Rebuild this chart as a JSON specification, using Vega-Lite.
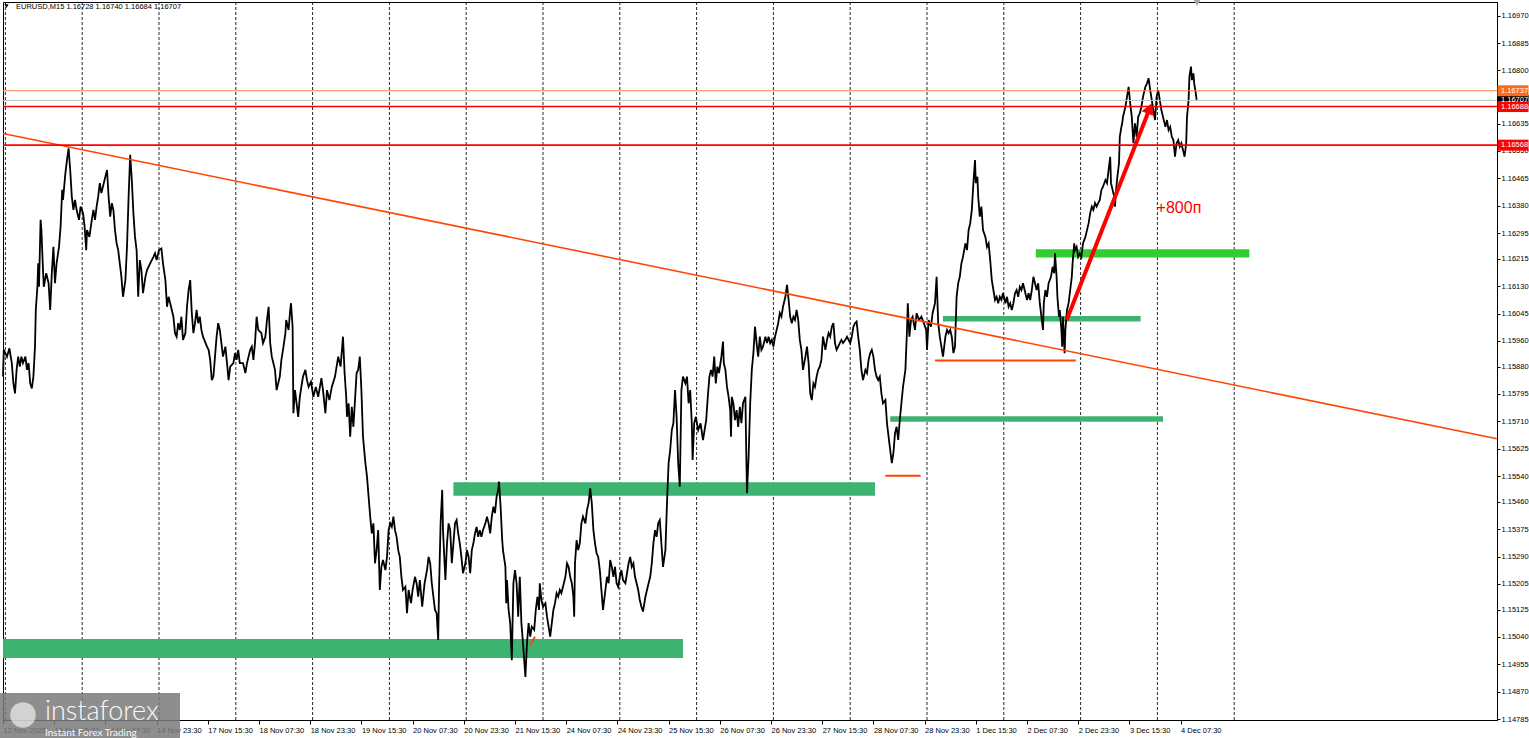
{
"$schema": "https://vega.github.io/schema/vega-lite/v6.json",
"width": 1494, "height": 718,
"autosize": "none",
"padding": {"left": 3, "top": 2, "right": 32, "bottom": 18},
"background": "#ffffff",
"config": {"view": {"stroke": "#000000", "strokeWidth": 1}, "axis": {"labelOverlap": false, "labelSeparation": 0}},
"resolve": {"scale": {"color": "independent"}},
"datasets": {
"grid": [{"g":3},{"g":99},{"g":195},{"g":291},{"g":387},{"g":483},{"g":579},{"g":675},{"g":771},{"g":867},{"g":963},{"g":1059},{"g":1155},{"g":1251},{"g":1347},{"g":1443},{"g":1539}],
"bands": [
{"b1":0,"b2":850,"p1":1.15034,"p2":1.14975,"k":"sea"},
{"b1":563,"b2":1090,"p1":1.15521,"p2":1.15479,"k":"sea"},
{"b1":1109,"b2":1450,"p1":1.15726,"p2":1.15709,"k":"sea"},
{"b1":1175,"b2":1422,"p1":1.16037,"p2":1.16020,"k":"sea"},
{"b1":1291,"b2":1558,"p1":1.16245,"p2":1.16219,"k":"lime"}],
"segs": [
{"b1":1103,"p1":1.15541,"b2":1147,"p2":1.15541},
{"b1":1165,"p1":1.15899,"b2":1341,"p2":1.15899},
{"b1":659,"p1":1.15015,"b2":665,"p2":1.15041}],
"tags": [
{"p":1.16707,"t":"1.16707","k":"bid"},
{"p":1.16737,"t":"1.16737","k":"orange"},
{"p":1.16688,"t":"1.16688","k":"red"},
{"p":1.16568,"t":"1.16568","k":"red"}],
"price": [
{"b":0,"p":1.15849},{"b":1,"p":1.15932},{"b":5,"p":1.15911},{"b":8,"p":1.15937},{"b":11,"p":1.15891},{"b":13,"p":1.15828},{"b":15,"p":1.15797},{"b":17,"p":1.15870},{"b":19,"p":1.15911},{"b":21,"p":1.15880},{"b":23,"p":1.15911},{"b":25,"p":1.15891},{"b":28,"p":1.15911},{"b":30,"p":1.15870},{"b":32,"p":1.15891},{"b":34,"p":1.15828},{"b":36,"p":1.15812},{"b":38,"p":1.15849},{"b":40,"p":1.15942},{"b":41,"p":1.16056},{"b":43,"p":1.16128},{"b":44,"p":1.16201},{"b":45,"p":1.16128},{"b":47,"p":1.16336},{"b":48,"p":1.16304},{"b":50,"p":1.16180},{"b":51,"p":1.16128},{"b":54,"p":1.16170},{"b":57,"p":1.16139},{"b":59,"p":1.16056},{"b":61,"p":1.16170},{"b":63,"p":1.16252},{"b":65,"p":1.16139},{"b":67,"p":1.16201},{"b":70,"p":1.16252},{"b":72,"p":1.16315},{"b":74,"p":1.16429},{"b":75,"p":1.16398},{"b":78,"p":1.16481},{"b":80,"p":1.16522},{"b":82,"p":1.16558},{"b":84,"p":1.16491},{"b":86,"p":1.16408},{"b":88,"p":1.16367},{"b":90,"p":1.16398},{"b":92,"p":1.16367},{"b":95,"p":1.16336},{"b":97,"p":1.16377},{"b":100,"p":1.16357},{"b":102,"p":1.16315},{"b":104,"p":1.16242},{"b":105,"p":1.16304},{"b":108,"p":1.16283},{"b":111,"p":1.16336},{"b":113,"p":1.16367},{"b":115,"p":1.16336},{"b":117,"p":1.16377},{"b":119,"p":1.16408},{"b":121,"p":1.16450},{"b":123,"p":1.16419},{"b":126,"p":1.16450},{"b":129,"p":1.16481},{"b":130,"p":1.16491},{"b":132,"p":1.16408},{"b":134,"p":1.16346},{"b":136,"p":1.16388},{"b":138,"p":1.16367},{"b":140,"p":1.16304},{"b":142,"p":1.16263},{"b":144,"p":1.16242},{"b":146,"p":1.16201},{"b":148,"p":1.16159},{"b":150,"p":1.16097},{"b":153,"p":1.16149},{"b":155,"p":1.16252},{"b":157,"p":1.16408},{"b":159,"p":1.16538},{"b":161,"p":1.16460},{"b":163,"p":1.16357},{"b":165,"p":1.16283},{"b":167,"p":1.16242},{"b":169,"p":1.16097},{"b":171,"p":1.16211},{"b":173,"p":1.16180},{"b":175,"p":1.16108},{"b":178,"p":1.16159},{"b":180,"p":1.16180},{"b":184,"p":1.16201},{"b":188,"p":1.16221},{"b":190,"p":1.16232},{"b":192,"p":1.16211},{"b":195,"p":1.16242},{"b":198,"p":1.16247},{"b":200,"p":1.16201},{"b":203,"p":1.16149},{"b":205,"p":1.16066},{"b":207,"p":1.16097},{"b":209,"p":1.16077},{"b":211,"p":1.16056},{"b":213,"p":1.16035},{"b":215,"p":1.15984},{"b":217,"p":1.15973},{"b":219,"p":1.16015},{"b":221,"p":1.15994},{"b":223,"p":1.16035},{"b":225,"p":1.15963},{"b":228,"p":1.15984},{"b":230,"p":1.16066},{"b":232,"p":1.16118},{"b":234,"p":1.16149},{"b":236,"p":1.16046},{"b":238,"p":1.15984},{"b":240,"p":1.16015},{"b":242,"p":1.16056},{"b":244,"p":1.16015},{"b":246,"p":1.16035},{"b":248,"p":1.15994},{"b":250,"p":1.15973},{"b":255,"p":1.15942},{"b":257,"p":1.15932},{"b":259,"p":1.15901},{"b":261,"p":1.15838},{"b":263,"p":1.15849},{"b":265,"p":1.15911},{"b":267,"p":1.15973},{"b":269,"p":1.16015},{"b":271,"p":1.15994},{"b":273,"p":1.15953},{"b":275,"p":1.15911},{"b":278,"p":1.15942},{"b":280,"p":1.15891},{"b":282,"p":1.15838},{"b":284,"p":1.15880},{"b":288,"p":1.15891},{"b":290,"p":1.15922},{"b":292,"p":1.15901},{"b":294,"p":1.15932},{"b":296,"p":1.15891},{"b":300,"p":1.15891},{"b":303,"p":1.15860},{"b":305,"p":1.15891},{"b":309,"p":1.15932},{"b":311,"p":1.15942},{"b":313,"p":1.15901},{"b":315,"p":1.15953},{"b":317,"p":1.16035},{"b":319,"p":1.15994},{"b":323,"p":1.15984},{"b":325,"p":1.15953},{"b":328,"p":1.15973},{"b":330,"p":1.16025},{"b":332,"p":1.16066},{"b":334,"p":1.15953},{"b":336,"p":1.15911},{"b":340,"p":1.15870},{"b":342,"p":1.15807},{"b":344,"p":1.15828},{"b":346,"p":1.15849},{"b":348,"p":1.15901},{"b":350,"p":1.15932},{"b":353,"p":1.15984},{"b":354,"p":1.16025},{"b":357,"p":1.15994},{"b":359,"p":1.16056},{"b":360,"p":1.16077},{"b":362,"p":1.16004},
{"b":363,"p":1.15735},{"b":365,"p":1.15807},{"b":367,"p":1.15766},{"b":369,"p":1.15724},{"b":371,"p":1.15786},{"b":375,"p":1.15849},{"b":378,"p":1.15870},{"b":380,"p":1.15838},{"b":382,"p":1.15817},{"b":385,"p":1.15833},{"b":388,"p":1.15786},{"b":391,"p":1.15817},{"b":394,"p":1.15786},{"b":398,"p":1.15844},{"b":400,"p":1.15807},{"b":403,"p":1.15735},{"b":405,"p":1.15807},{"b":408,"p":1.15776},{"b":411,"p":1.15817},{"b":415,"p":1.15849},{"b":419,"p":1.15911},{"b":422,"p":1.15880},{"b":425,"p":1.15973},{"b":427,"p":1.15860},{"b":429,"p":1.15786},{"b":430,"p":1.15724},{"b":432,"p":1.15766},{"b":434,"p":1.15662},{"b":436,"p":1.15755},{"b":438,"p":1.15693},{"b":440,"p":1.15776},{"b":442,"p":1.15860},{"b":444,"p":1.15870},{"b":446,"p":1.15911},{"b":448,"p":1.15807},{"b":450,"p":1.15662},{"b":453,"p":1.15580},{"b":455,"p":1.15538},{"b":457,"p":1.15476},{"b":459,"p":1.15414},{"b":461,"p":1.15362},{"b":463,"p":1.15393},{"b":465,"p":1.15269},{"b":467,"p":1.15310},{"b":469,"p":1.15372},{"b":471,"p":1.15186},{"b":473,"p":1.15258},{"b":475,"p":1.15279},{"b":478,"p":1.15248},{"b":480,"p":1.15289},{"b":482,"p":1.15372},{"b":484,"p":1.15393},{"b":486,"p":1.15382},{"b":488,"p":1.15414},{"b":490,"p":1.15372},{"b":492,"p":1.15351},{"b":494,"p":1.15310},{"b":496,"p":1.15289},{"b":498,"p":1.15227},{"b":500,"p":1.15186},{"b":503,"p":1.15196},{"b":505,"p":1.15114},{"b":507,"p":1.15186},{"b":510,"p":1.15145},{"b":512,"p":1.15186},{"b":515,"p":1.15227},{"b":517,"p":1.15207},{"b":519,"p":1.15165},{"b":521,"p":1.15217},{"b":524,"p":1.15134},{"b":527,"p":1.15207},{"b":530,"p":1.15248},{"b":532,"p":1.15289},{"b":534,"p":1.15269},{"b":536,"p":1.15207},{"b":538,"p":1.15165},{"b":540,"p":1.15124},{"b":542,"p":1.15114},{"b":544,"p":1.15031},{"b":545,"p":1.15186},{"b":547,"p":1.15393},{"b":549,"p":1.15497},{"b":550,"p":1.15372},{"b":553,"p":1.15217},{"b":555,"p":1.15331},{"b":557,"p":1.15393},{"b":559,"p":1.15372},{"b":561,"p":1.15269},{"b":563,"p":1.15331},{"b":565,"p":1.15393},{"b":567,"p":1.15403},{"b":569,"p":1.15362},{"b":571,"p":1.15331},{"b":573,"p":1.15289},{"b":575,"p":1.15238},{"b":578,"p":1.15269},{"b":580,"p":1.15310},{"b":582,"p":1.15289},{"b":584,"p":1.15238},{"b":586,"p":1.15310},{"b":588,"p":1.15331},{"b":590,"p":1.15362},{"b":592,"p":1.15382},{"b":594,"p":1.15351},{"b":596,"p":1.15372},{"b":598,"p":1.15351},{"b":600,"p":1.15372},{"b":603,"p":1.15393},{"b":605,"p":1.15414},{"b":607,"p":1.15393},{"b":609,"p":1.15362},{"b":611,"p":1.15414},{"b":613,"p":1.15445},{"b":615,"p":1.15425},{"b":617,"p":1.15476},{"b":619,"p":1.15497},{"b":620,"p":1.15523},{"b":622,"p":1.15445},{"b":624,"p":1.15341},{"b":625,"p":1.15310},{"b":628,"p":1.15258},{"b":629,"p":1.15145},{"b":630,"p":1.15217},{"b":632,"p":1.15124},{"b":634,"p":1.15083},{"b":636,"p":1.14968},{"b":638,"p":1.15207},{"b":640,"p":1.15248},{"b":642,"p":1.15207},{"b":644,"p":1.15103},{"b":646,"p":1.15227},{"b":648,"p":1.15083},{"b":650,"p":1.15021},{"b":653,"p":1.14916},{"b":655,"p":1.15021},{"b":657,"p":1.15083},{"b":659,"p":1.15041},{"b":661,"p":1.15072},{"b":664,"p":1.15062},{"b":666,"p":1.15124},{"b":668,"p":1.15165},{"b":670,"p":1.15124},{"b":671,"p":1.15207},{"b":673,"p":1.15155},{"b":675,"p":1.15134},{"b":678,"p":1.15145},{"b":680,"p":1.15103},{"b":682,"p":1.15072},{"b":684,"p":1.15041},{"b":686,"p":1.15083},{"b":688,"p":1.15124},{"b":690,"p":1.15145},{"b":692,"p":1.15176},{"b":694,"p":1.15165},{"b":696,"p":1.15186},{"b":698,"p":1.15176},{"b":700,"p":1.15196},{"b":703,"p":1.15227},{"b":705,"p":1.15269},{"b":707,"p":1.15258},{"b":709,"p":1.15227},{"b":711,"p":1.15207},{"b":713,"p":1.15165},{"b":714,"p":1.15103},{"b":715,"p":1.15269},{"b":717,"p":1.15341},{"b":719,"p":1.15310},{"b":721,"p":1.15331},{"b":723,"p":1.15393},{"b":725,"p":1.15414},{"b":728,"p":1.15393},{"b":730,"p":1.15435},{"b":732,"p":1.15456},{"b":734,"p":1.15502},{"b":736,"p":1.15456},{"b":738,"p":1.15372},{"b":740,"p":1.15331},{"b":742,"p":1.15300},{"b":744,"p":1.15289},{"b":746,"p":1.15248},{"b":748,"p":1.15186},{"b":750,"p":1.15124},{"b":753,"p":1.15186},{"b":755,"p":1.15227},{"b":757,"p":1.15207},{"b":759,"p":1.15279},{"b":761,"p":1.15258},{"b":763,"p":1.15227},{"b":765,"p":1.15258},{"b":767,"p":1.15207},{"b":769,"p":1.15196},{"b":771,"p":1.15227},{"b":773,"p":1.15248},{"b":775,"p":1.15217},{"b":778,"p":1.15207},{"b":780,"p":1.15238},{"b":782,"p":1.15269},{"b":784,"p":1.15289},{"b":786,"p":1.15258},{"b":788,"p":1.15269},{"b":790,"p":1.15227},{"b":792,"p":1.15207},{"b":794,"p":1.15186},{"b":796,"p":1.15155},{"b":798,"p":1.15134},{"b":800,"p":1.15119},{"b":803,"p":1.15165},{"b":805,"p":1.15186},{"b":807,"p":1.15207},{"b":809,"p":1.15227},{"b":811,"p":1.15269},{"b":813,"p":1.15331},{"b":815,"p":1.15372},{"b":817,"p":1.15351},{"b":819,"p":1.15393},{"b":821,"p":1.15403},{"b":823,"p":1.15331},{"b":825,"p":1.15258},{"b":828,"p":1.15310},{"b":830,"p":1.15456},{"b":832,"p":1.15580},{"b":834,"p":1.15621},{"b":836,"p":1.15683},{"b":838,"p":1.15704},{"b":840,"p":1.15807},{"b":842,"p":1.15724},{"b":844,"p":1.15580},{"b":846,"p":1.15507},{"b":848,"p":1.15807},{"b":850,"p":1.15849},{"b":853,"p":1.15828},{"b":855,"p":1.15849},{"b":857,"p":1.15766},{"b":859,"p":1.15807},{"b":861,"p":1.15704},{"b":862,"p":1.15590},{"b":864,"p":1.15704},{"b":866,"p":1.15724},{"b":869,"p":1.15683},{"b":872,"p":1.15704},{"b":875,"p":1.15652},{"b":877,"p":1.15683},{"b":879,"p":1.15714},{"b":881,"p":1.15786},{"b":883,"p":1.15849},{"b":885,"p":1.15870},{"b":887,"p":1.15849},{"b":889,"p":1.15911},{"b":891,"p":1.15828},{"b":893,"p":1.15880},{"b":895,"p":1.15860},{"b":898,"p":1.15911},{"b":900,"p":1.15958},{"b":901,"p":1.15891},{"b":903,"p":1.15870},{"b":905,"p":1.15817},{"b":907,"p":1.15786},{"b":909,"p":1.15745},{"b":910,"p":1.15662},{"b":911,"p":1.15786},{"b":913,"p":1.15766},{"b":915,"p":1.15714},{"b":917,"p":1.15745},{"b":919,"p":1.15693},{"b":921,"p":1.15755},{"b":923,"p":1.15704},{"b":925,"p":1.15766},{"b":928,"p":1.15786},{"b":929,"p":1.15621},{"b":930,"p":1.15487},{"b":932,"p":1.15600},{"b":934,"p":1.15766},{"b":936,"p":1.15870},{"b":938,"p":1.15922},{"b":940,"p":1.16004},{"b":942,"p":1.15953},{"b":944,"p":1.15911},{"b":946,"p":1.15973},{"b":948,"p":1.15932},{"b":950,"p":1.15942},{"b":953,"p":1.15973},{"b":955,"p":1.15953},{"b":957,"p":1.15973},{"b":959,"p":1.15953},{"b":961,"p":1.15963},{"b":963,"p":1.15942},{"b":965,"p":1.15973},{"b":967,"p":1.15994},{"b":969,"p":1.16015},{"b":971,"p":1.16046},{"b":973,"p":1.16035},{"b":975,"p":1.16066},{"b":978,"p":1.16097},{"b":980,"p":1.16134},{"b":982,"p":1.16087},{"b":984,"p":1.16035},{"b":986,"p":1.16015},{"b":988,"p":1.16035},{"b":990,"p":1.16025},{"b":992,"p":1.16056},{"b":994,"p":1.16025},{"b":996,"p":1.15963},{"b":998,"p":1.15932},{"b":1000,"p":1.15870},{"b":1003,"p":1.15911},{"b":1005,"p":1.15942},{"b":1007,"p":1.15891},{"b":1009,"p":1.15797},{"b":1011,"p":1.15776},{"b":1013,"p":1.15828},{"b":1015,"p":1.15817},{"b":1017,"p":1.15849},{"b":1019,"p":1.15870},{"b":1021,"p":1.15880},{"b":1023,"p":1.15901},{"b":1025,"p":1.15973},{"b":1028,"p":1.15932},{"b":1030,"p":1.15963},{"b":1032,"p":1.15984},{"b":1034,"p":1.15973},{"b":1036,"p":1.16004},{"b":1038,"p":1.16015},{"b":1040,"p":1.15953},{"b":1042,"p":1.15932},{"b":1044,"p":1.15942},{"b":1046,"p":1.15953},{"b":1048,"p":1.15963},{"b":1050,"p":1.15953},{"b":1053,"p":1.15963},{"b":1055,"p":1.15973},{"b":1057,"p":1.15963},{"b":1059,"p":1.15953},{"b":1061,"p":1.15973},{"b":1063,"p":1.16004},{"b":1065,"p":1.16015},{"b":1067,"p":1.16020},{"b":1069,"p":1.15973},{"b":1071,"p":1.15932},{"b":1073,"p":1.15870},{"b":1075,"p":1.15838},{"b":1078,"p":1.15870},{"b":1080,"p":1.15860},{"b":1082,"p":1.15901},{"b":1084,"p":1.15922},{"b":1086,"p":1.15932},{"b":1088,"p":1.15911},{"b":1090,"p":1.15870},{"b":1092,"p":1.15849},{"b":1094,"p":1.15838},{"b":1096,"p":1.15849},{"b":1098,"p":1.15797},{"b":1100,"p":1.15766},{"b":1103,"p":1.15776},{"b":1105,"p":1.15704},{"b":1107,"p":1.15662},{"b":1109,"p":1.15621},{"b":1111,"p":1.15580},{"b":1113,"p":1.15611},{"b":1115,"p":1.15673},{"b":1117,"p":1.15693},{"b":1119,"p":1.15652},{"b":1121,"p":1.15714},{"b":1123,"p":1.15766},{"b":1125,"p":1.15817},{"b":1128,"p":1.15870},{"b":1130,"p":1.15994},{"b":1131,"p":1.16077},{"b":1133,"p":1.15973},{"b":1135,"p":1.16025},{"b":1137,"p":1.16035},{"b":1140,"p":1.15994},{"b":1142,"p":1.16046},{"b":1145,"p":1.16025},{"b":1148,"p":1.16035},{"b":1151,"p":1.16015},{"b":1154,"p":1.15994},{"b":1155,"p":1.15932},{"b":1157,"p":1.16025},{"b":1160,"p":1.16004},{"b":1162,"p":1.16046},{"b":1165,"p":1.16077},{"b":1167,"p":1.16159},{"b":1169,"p":1.16015},{"b":1171,"p":1.15973},{"b":1173,"p":1.15942},{"b":1175,"p":1.15911},{"b":1178,"p":1.15973},{"b":1180,"p":1.15994},{"b":1182,"p":1.15984},{"b":1184,"p":1.15994},{"b":1186,"p":1.15973},{"b":1188,"p":1.15922},{"b":1190,"p":1.15942},{"b":1192,"p":1.16097},{"b":1194,"p":1.16139},
{"b":1196,"p":1.16159},{"b":1198,"p":1.16201},{"b":1200,"p":1.16221},{"b":1203,"p":1.16263},{"b":1205,"p":1.16242},{"b":1207,"p":1.16304},{"b":1209,"p":1.16325},{"b":1211,"p":1.16367},{"b":1213,"p":1.16450},{"b":1215,"p":1.16522},{"b":1216,"p":1.16450},{"b":1218,"p":1.16470},{"b":1219,"p":1.16408},{"b":1221,"p":1.16346},{"b":1223,"p":1.16377},{"b":1225,"p":1.16304},{"b":1228,"p":1.16283},{"b":1230,"p":1.16252},{"b":1232,"p":1.16263},{"b":1234,"p":1.16211},{"b":1236,"p":1.16149},{"b":1238,"p":1.16118},{"b":1240,"p":1.16087},{"b":1242,"p":1.16097},{"b":1244,"p":1.16077},{"b":1246,"p":1.16097},{"b":1248,"p":1.16087},{"b":1250,"p":1.16108},{"b":1253,"p":1.16077},{"b":1255,"p":1.16097},{"b":1257,"p":1.16066},{"b":1259,"p":1.16077},{"b":1261,"p":1.16056},{"b":1263,"p":1.16077},{"b":1265,"p":1.16108},{"b":1267,"p":1.16118},{"b":1269,"p":1.16097},{"b":1271,"p":1.16128},{"b":1273,"p":1.16118},{"b":1275,"p":1.16139},{"b":1278,"p":1.16108},{"b":1280,"p":1.16087},{"b":1282,"p":1.16108},{"b":1284,"p":1.16087},{"b":1286,"p":1.16118},{"b":1288,"p":1.16159},{"b":1290,"p":1.16139},{"b":1292,"p":1.16118},{"b":1294,"p":1.16139},{"b":1296,"p":1.16077},{"b":1298,"p":1.16035},{"b":1300,"p":1.15994},{"b":1301,"p":1.16077},{"b":1303,"p":1.16118},{"b":1305,"p":1.16097},{"b":1307,"p":1.16139},{"b":1310,"p":1.16159},{"b":1312,"p":1.16190},{"b":1314,"p":1.16170},{"b":1315,"p":1.16232},{"b":1317,"p":1.16159},{"b":1318,"p":1.16097},{"b":1320,"p":1.16035},{"b":1321,"p":1.16056},{"b":1323,"p":1.15994},{"b":1324,"p":1.15942},{"b":1325,"p":1.16035},{"b":1327,"p":1.15922},{"b":1328,"p":1.15994},{"b":1330,"p":1.16056},{"b":1332,"p":1.16077},{"b":1334,"p":1.16118},{"b":1336,"p":1.16159},{"b":1337,"p":1.16201},{"b":1339,"p":1.16263},{"b":1340,"p":1.16242},{"b":1342,"p":1.16252},{"b":1344,"p":1.16221},{"b":1346,"p":1.16232},{"b":1348,"p":1.16221},{"b":1350,"p":1.16263},{"b":1353,"p":1.16283},{"b":1355,"p":1.16304},{"b":1357,"p":1.16325},{"b":1359,"p":1.16357},{"b":1361,"p":1.16377},{"b":1363,"p":1.16367},{"b":1365,"p":1.16388},{"b":1367,"p":1.16377},{"b":1369,"p":1.16388},{"b":1371,"p":1.16398},{"b":1373,"p":1.16429},{"b":1375,"p":1.16439},{"b":1378,"p":1.16460},{"b":1380,"p":1.16450},{"b":1382,"p":1.16491},{"b":1384,"p":1.16532},{"b":1385,"p":1.16450},{"b":1387,"p":1.16429},{"b":1389,"p":1.16408},{"b":1390,"p":1.16377},{"b":1391,"p":1.16419},{"b":1393,"p":1.16470},{"b":1395,"p":1.16512},{"b":1396,"p":1.16594},{"b":1398,"p":1.16625},{"b":1399,"p":1.16636},{"b":1400,"p":1.16656},{"b":1403,"p":1.16687},{"b":1405,"p":1.16718},{"b":1407,"p":1.16749},{"b":1409,"p":1.16698},{"b":1411,"p":1.16656},{"b":1413,"p":1.16574},{"b":1415,"p":1.16636},{"b":1417,"p":1.16594},{"b":1419,"p":1.16656},{"b":1421,"p":1.16667},{"b":1423,"p":1.16687},{"b":1425,"p":1.16718},{"b":1428,"p":1.16749},{"b":1430,"p":1.16760},{"b":1432,"p":1.16776},{"b":1434,"p":1.16739},{"b":1436,"p":1.16708},{"b":1438,"p":1.16677},{"b":1440,"p":1.16646},{"b":1442,"p":1.16718},{"b":1444,"p":1.16739},{"b":1446,"p":1.16708},{"b":1448,"p":1.16677},{"b":1450,"p":1.16656},{"b":1453,"p":1.16625},{"b":1455,"p":1.16646},{"b":1457,"p":1.16615},{"b":1459,"p":1.16625},{"b":1461,"p":1.16594},{"b":1463,"p":1.16584},{"b":1465,"p":1.16532},{"b":1467,"p":1.16574},{"b":1469,"p":1.16584},{"b":1471,"p":1.16563},{"b":1473,"p":1.16574},{"b":1475,"p":1.16553},{"b":1477,"p":1.16532},{"b":1479,"p":1.16574},{"b":1480,"p":1.16656},{"b":1482,"p":1.16708},{"b":1483,"p":1.16781},{"b":1485,"p":1.16812},{"b":1486,"p":1.16770},{"b":1488,"p":1.16791},{"b":1489,"p":1.16760},{"b":1491,"p":1.16729},{"b":1492,"p":1.16709}
]
},
"layer": [
{"data": {"name": "grid"},
 "mark": {"type": "rule", "color": "#000000", "strokeWidth": 1, "strokeDash": [3, 2], "opacity": 0.85},
 "encoding": {"x": {"field": "g", "type": "quantitative", "title": null}}},
{"data": {"name": "bands"},
 "mark": {"type": "rect"},
 "encoding": {
  "x": {"field": "b1", "type": "quantitative", "title": null},
  "x2": {"field": "b2"},
  "y": {"field": "p1", "type": "quantitative", "title": null},
  "y2": {"field": "p2"},
  "color": {"field": "k", "type": "nominal", "scale": {"domain": ["sea", "lime"], "range": ["#3cb371", "#32cd32"]}, "legend": null}}},
{"data": {"name": "price"},
 "mark": {"type": "line", "color": "#000000", "strokeWidth": 1.8, "strokeJoin": "miter"},
 "encoding": {
  "x": {"field": "b", "type": "quantitative", "title": null, "scale": {"domain": [0, 1867.5], "nice": false, "zero": false},
   "axis": {"orient": "bottom", "title": null, "grid": false, "tickCount": 60,
    "values": [0,64,128,192,256,320,384,448,512,576,640,704,768,832,896,960,1024,1088,1152,1216,1280,1344,1408,1472],
    "labelExpr": "['12 Nov 2025','13 Nov 15:30','14 Nov 07:30','14 Nov 23:30','17 Nov 15:30','18 Nov 07:30','18 Nov 23:30','19 Nov 15:30','20 Nov 07:30','20 Nov 23:30','21 Nov 15:30','24 Nov 07:30','24 Nov 23:30','25 Nov 15:30','26 Nov 07:30','26 Nov 23:30','27 Nov 15:30','28 Nov 07:30','28 Nov 23:30','1 Dec 15:30','2 Dec 07:30','2 Dec 23:30','3 Dec 15:30','4 Dec 07:30'][round(datum.value/64)]",
    "labelAlign": "left", "labelBaseline": "top", "labelPadding": 2, "tickSize": 4,
    "labelFont": "Liberation Sans", "labelFontSize": 7.5, "labelColor": "#000000",
    "tickColor": "#000000", "domainColor": "#000000", "labelOverlap": false, "labelFlush": false, "labelBound": false}},
  "y": {"field": "p", "type": "quantitative", "title": null, "scale": {"domain": [1.147821, 1.170128], "nice": false, "zero": false},
   "axis": {"orient": "right", "title": null, "grid": false, "tickCount": 60,
    "values": [1.16970,1.16885,1.16800,1.16720,1.16635,1.16550,1.16465,1.16380,1.16295,1.16215,1.16130,1.16045,1.15960,1.15880,1.15795,1.15710,1.15625,1.15540,1.15460,1.15375,1.15290,1.15205,1.15125,1.15040,1.14955,1.14870,1.14785],
    "format": ".5f", "tickSize": 3, "labelPadding": 1,
    "labelFont": "Liberation Sans", "labelFontSize": 7.5, "labelColor": "#000000",
    "tickColor": "#000000", "domainColor": "#000000", "labelOverlap": false, "labelFlush": false, "labelBound": false}}}},
{"data": {"values": [{}]},
 "mark": {"type": "rule", "color": "#ff4500", "strokeWidth": 1.6},
 "encoding": {"x": {"datum": 0, "title": null}, "x2": {"datum": 1867.5}, "y": {"datum": 1.16604, "title": null}, "y2": {"datum": 1.15656}}},
{"data": {"values": [{}]},
 "mark": {"type": "rule", "color": "#ff7f50", "strokeWidth": 1},
 "encoding": {"y": {"datum": 1.16737, "title": null}}},
{"data": {"values": [{}]},
 "mark": {"type": "rule", "color": "#c0c0c0", "strokeWidth": 1},
 "encoding": {"y": {"datum": 1.16707, "title": null}}},
{"data": {"values": [{}]},
 "mark": {"type": "rule", "color": "#ff0000", "strokeWidth": 1.6},
 "encoding": {"y": {"datum": 1.16688, "title": null}}},
{"data": {"values": [{}]},
 "mark": {"type": "rule", "color": "#ff0000", "strokeWidth": 1.6},
 "encoding": {"y": {"datum": 1.16568, "title": null}}},
{"data": {"name": "segs"},
 "mark": {"type": "rule", "color": "#ff4500", "strokeWidth": 2},
 "encoding": {"x": {"field": "b1", "type": "quantitative", "title": null}, "x2": {"field": "b2"}, "y": {"field": "p1", "type": "quantitative", "title": null}, "y2": {"field": "p2"}}},
{"data": {"values": [{}]},
 "mark": {"type": "rule", "color": "#ff0000", "strokeWidth": 4, "strokeCap": "butt"},
 "encoding": {"x": {"datum": 1329.6, "title": null}, "x2": {"datum": 1433.4}, "y": {"datum": 1.16025, "title": null}, "y2": {"datum": 1.16682}}},
{"data": {"values": [{}]},
 "mark": {"type": "point", "shape": "triangle-up", "filled": true, "color": "#ff0000", "size": 170, "angle": 21.4, "opacity": 1},
 "encoding": {"x": {"datum": 1433.4, "title": null}, "y": {"datum": 1.16682, "title": null}}},
{"data": {"values": [{}]},
 "mark": {"type": "text", "text": "+800п", "color": "#ff0000", "font": "Liberation Sans", "fontSize": 16, "align": "left", "baseline": "alphabetic"},
 "encoding": {"x": {"datum": 1442, "title": null}, "y": {"datum": 1.16358, "title": null}}},
{"data": {"name": "tags"},
 "mark": {"type": "tick", "orient": "horizontal", "size": 31, "thickness": 11, "opacity": 1},
 "encoding": {"x": {"datum": 1887.5, "title": null}, "y": {"field": "p", "type": "quantitative", "title": null},
  "color": {"field": "k", "type": "nominal", "scale": {"domain": ["bid", "orange", "red"], "range": ["#000000", "#ff6a1a", "#ff0000"]}, "legend": null}}},
{"data": {"name": "tags"},
 "mark": {"type": "text", "align": "left", "baseline": "middle", "color": "#ffffff", "font": "Liberation Sans", "fontSize": 7.5},
 "encoding": {"x": {"datum": 1872.5, "title": null}, "y": {"field": "p", "type": "quantitative", "title": null}, "text": {"field": "t"}}},
{"data": {"values": [{}]},
 "mark": {"type": "rect", "color": "#7a7a7a", "opacity": 0.85},
 "encoding": {"x": {"datum": -3.75, "title": null}, "x2": {"datum": 221.25}, "y": {"datum": 1.14866, "title": null}, "y2": {"datum": 1.14726}}},
{"data": {"values": [{}]},
 "mark": {"type": "point", "shape": "circle", "filled": true, "color": "#ffffff", "size": 650, "opacity": 0.6},
 "encoding": {"x": {"datum": 25, "title": null}, "y": {"datum": 1.14798, "title": null}}},
{"data": {"values": [{}]},
 "mark": {"type": "text", "text": "instaforex", "color": "#ffffff", "font": "Lato", "fontWeight": 300, "fontSize": 27, "align": "left", "baseline": "alphabetic", "opacity": 0.95},
 "encoding": {"x": {"datum": 52.5, "title": null}, "y": {"datum": 1.14782, "title": null}}},
{"data": {"values": [{}]},
 "mark": {"type": "text", "text": "Instant Forex Trading", "color": "#ffffff", "font": "Lato", "fontSize": 10, "align": "left", "baseline": "alphabetic", "opacity": 0.95},
 "encoding": {"x": {"datum": 52.5, "title": null}, "y": {"datum": 1.14732, "title": null}}},
{"data": {"values": [{}]},
 "mark": {"type": "point", "shape": "triangle-down", "filled": true, "color": "#000000", "size": 18, "opacity": 1},
 "encoding": {"x": {"datum": 4.4, "title": null}, "y": {"datum": 1.17, "title": null}}},
{"data": {"values": [{}]},
 "mark": {"type": "text", "text": "EURUSD,M15  1.16728 1.16740 1.16684 1.16707", "color": "#000000", "font": "Liberation Sans", "fontSize": 7.5, "align": "left", "baseline": "middle"},
 "encoding": {"x": {"datum": 16.25, "title": null}, "y": {"datum": 1.16997, "title": null}}},
{"data": {"values": [{}]},
 "mark": {"type": "point", "shape": "triangle-down", "filled": true, "color": "#a8a8a8", "size": 50, "opacity": 1},
 "encoding": {"x": {"datum": 1492.5, "title": null}, "y": {"datum": 1.1701, "title": null}}}
]
}
